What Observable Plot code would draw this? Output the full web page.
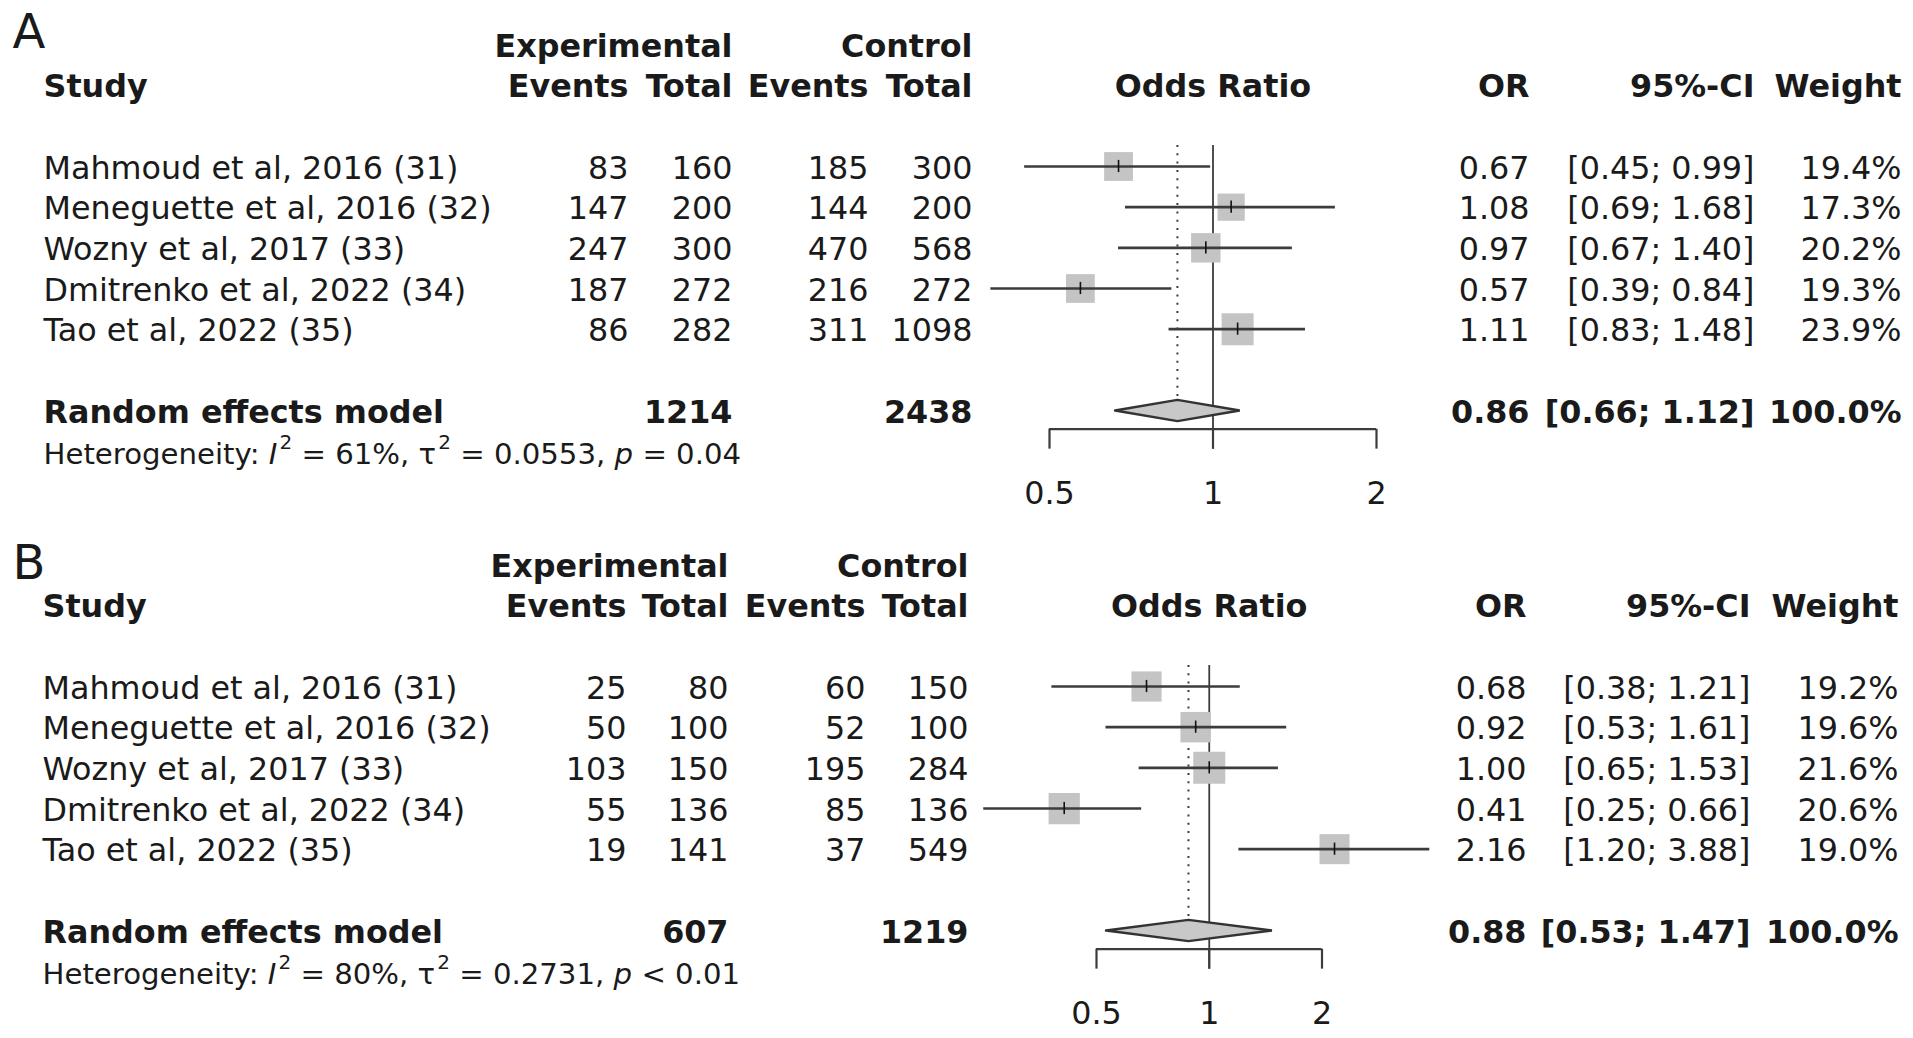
<!DOCTYPE html>
<html><head><meta charset="utf-8">
<script src="https://cdn.jsdelivr.net/npm/d3@7"></script>
<script src="https://cdn.jsdelivr.net/npm/@observablehq/plot@0.6"></script>
<style>
html,body{margin:0;padding:0;background:#fff;}
#chart svg{display:block;overflow:visible;}
</style>
</head><body><div id="chart"></div>
<script>
// ---------- data ----------
const studies = ["Mahmoud et al, 2016 (31)", "Meneguette et al, 2016 (32)", "Wozny et al, 2017 (33)", "Dmitrenko et al, 2022 (34)", "Tao et al, 2022 (35)"];
const tickValues = [0.5, 1, 2];
const tickLabels = ["0.5", "1", "2"];

// Panel A
const aExpEvents = [83, 147, 247, 187, 86];
const aExpTotal = [160, 200, 300, 272, 282];
const aCtrlEvents = [185, 144, 470, 216, 311];
const aCtrlTotal = [300, 200, 568, 272, 1098];
const aOR = [0.67, 1.08, 0.97, 0.57, 1.11];
const aLower = [0.45, 0.69, 0.67, 0.39, 0.83];
const aUpper = [0.99, 1.68, 1.40, 0.84, 1.48];
const aWeight = [19.4, 17.3, 20.2, 19.3, 23.9];
const aPooled = [0.86, 0.66, 1.12];      // OR, lower, upper
const aPooledTotals = [1214, 2438];      // experimental, control
const aHet = ["61%", "0.0553", "= 0.04"]; // I2, tau2, p

// Panel B
const bExpEvents = [25, 50, 103, 55, 19];
const bExpTotal = [80, 100, 150, 136, 141];
const bCtrlEvents = [60, 52, 195, 85, 37];
const bCtrlTotal = [150, 100, 284, 136, 549];
const bOR = [0.68, 0.92, 1.00, 0.41, 2.16];
const bLower = [0.38, 0.53, 0.65, 0.25, 1.20];
const bUpper = [1.21, 1.61, 1.53, 0.66, 3.88];
const bWeight = [19.2, 19.6, 21.6, 20.6, 19.0];
const bPooled = [0.88, 0.53, 1.47];
const bPooledTotals = [607, 1219];
const bHet = ["80%", "0.2731", "< 0.01"];

// ---------- drawing ----------
function forestPanel(d, L) {
  const rows = studies.map((s, i) => ({
    study: s, row: i + 1,
    expEv: d.expEvents[i], expTot: d.expTotal[i], ctlEv: d.ctrlEvents[i], ctlTot: d.ctrlTotal[i],
    or: d.or[i], lo: d.lower[i], hi: d.upper[i], w: d.weight[i]
  }));
  const poolRow = 7, dh = 0.26, topRow = 0.484, axisRow = 7.46, tickEnd = 7.95, labelRow = 9.05, hetRow = 8.09;
  const [por, plo, phi] = d.pooled;
  const diamond = [
    {x: plo, y: poolRow}, {x: por, y: poolRow - dh}, {x: phi, y: poolRow},
    {x: por, y: poolRow + dh}, {x: plo, y: poolRow}
  ];
  const fs = 31.8;
  const ink = "#1a1a1a", lineCol = "#3c3c3c";
  const col = px => px - L.ml;
  const colText = (data, text, px, anchor, extra = {}) =>
    Plot.text(data, {frameAnchor: "left", dx: col(px), y: "row", text, textAnchor: anchor,
      fontSize: fs, fill: ink, dy: 2, ...extra});
  const header = (label, row, px, anchor) =>
    Plot.text([label], {frameAnchor: "left", dx: col(px), y: row, text: t => t, textAnchor: anchor,
      fontSize: fs, fontWeight: "bold", fill: ink, dy: 2});
  const pooledRow = [{row: poolRow}];
  const bold = {fontWeight: "bold"};

  const svg = Plot.plot({
    width: 1913, height: L.height,
    marginLeft: L.ml, marginRight: 1913 - L.xr, marginTop: 0, marginBottom: 0,
    x: {type: "log", domain: [0.5, 2], axis: null},
    y: {domain: [1, 7], range: [166, 410], axis: null},
    r: {type: "sqrt", domain: [0, d3.max(d.weight)], range: [0, 32 / Math.sqrt(Math.PI)]},
    style: {fontFamily: "'DejaVu Sans', sans-serif", background: "#fff", overflow: "visible"},
    marks: [
      // panel letter
      Plot.text([L.letter], {frameAnchor: "left", dx: col(12), y: L.letterRow, text: t => t,
        textAnchor: "start", fontSize: 48, fill: ink}),
      // headers
      header("Experimental", -2, L.c.expTot, "end"),
      header("Control", -2, L.c.ctlTot, "end"),
      header("Study", -1, L.c.study, "start"),
      header("Events", -1, L.c.expEv, "end"),
      header("Total", -1, L.c.expTot, "end"),
      header("Events", -1, L.c.ctlEv, "end"),
      header("Total", -1, L.c.ctlTot, "end"),
      Plot.text([1], {x: v => v, y: -1, text: ["Odds Ratio"], fontSize: fs, fontWeight: "bold", fill: ink, dy: 2}),
      header("OR", -1, L.c.or, "end"),
      header("95%-CI", -1, L.c.ci, "end"),
      header("Weight", -1, L.c.w, "end"),
      // reference lines
      Plot.ruleX([1], {x: v => v, y1: topRow, y2: tickEnd, stroke: lineCol, strokeWidth: 1.8}),
      Plot.ruleX([por], {x: v => v, y1: topRow, y2: poolRow - dh, stroke: lineCol, strokeWidth: 2, strokeDasharray: "2,6.3"}),
      // squares, CIs, point ticks
      Plot.dot(rows, {x: "or", y: "row", r: "w", symbol: "square", fill: "#c4c4c4", stroke: null}),
      Plot.ruleY(rows, {x1: "lo", x2: "hi", y: "row", stroke: lineCol, strokeWidth: 2.6}),
      Plot.ruleX(rows, {x: "or", y1: r => r.row - 0.15, y2: r => r.row + 0.15, stroke: "#111", strokeWidth: 1.6}),
      // diamond
      Plot.line(diamond, {x: "x", y: "y", fill: "#c8c8c8", stroke: "#333", strokeWidth: 2.4, strokeLinejoin: "miter"}),
      // x axis
      Plot.ruleY([axisRow], {x1: tickValues[0], x2: tickValues[tickValues.length - 1], y: v => v, stroke: lineCol, strokeWidth: 2.2}),
      Plot.ruleX(tickValues, {x: v => v, y1: axisRow, y2: tickEnd, stroke: lineCol, strokeWidth: 2.2}),
      Plot.text(tickValues, {x: v => v, y: labelRow, text: (v, i) => tickLabels[i], fontSize: fs, fill: ink}),
      // study table
      colText(rows, "study", L.c.study, "start"),
      colText(rows, r => String(r.expEv), L.c.expEv, "end"),
      colText(rows, r => String(r.expTot), L.c.expTot, "end"),
      colText(rows, r => String(r.ctlEv), L.c.ctlEv, "end"),
      colText(rows, r => String(r.ctlTot), L.c.ctlTot, "end"),
      colText(rows, r => r.or.toFixed(2), L.c.or, "end"),
      colText(rows, r => `[${r.lo.toFixed(2)}; ${r.hi.toFixed(2)}]`, L.c.ci, "end"),
      colText(rows, r => `${r.w.toFixed(1)}%`, L.c.w, "end"),
      // pooled row
      colText(pooledRow, () => "Random effects model", L.c.study, "start", bold),
      colText(pooledRow, () => String(d.pooledTotals[0]), L.c.expTot, "end", bold),
      colText(pooledRow, () => String(d.pooledTotals[1]), L.c.ctlTot, "end", bold),
      colText(pooledRow, () => por.toFixed(2), L.c.or, "end", bold),
      colText(pooledRow, () => `[${plo.toFixed(2)}; ${phi.toFixed(2)}]`, L.c.ci, "end", bold),
      colText(pooledRow, () => "100.0%", L.c.w, "end", bold),
      // heterogeneity
      Plot.text(["Heterogeneity"], {frameAnchor: "left", dx: col(L.c.study), y: hetRow, text: t => t,
        textAnchor: "start", fontSize: 29.2, fill: ink})
    ]
  });

  // rich heterogeneity line (italics + superscripts)
  d3.select(svg).selectAll("text")
    .filter(function() { return this.textContent === "Heterogeneity"; })
    .each(function() {
      const t = d3.select(this);
      t.text(null);
      const [i2, tau2, p] = d.het;
      t.append("tspan").text("Heterogeneity: ");
      t.append("tspan").attr("font-style", "italic").text("I");
      t.append("tspan").attr("font-size", "20px").attr("dy", "-15").attr("dx", "2").text("2");
      t.append("tspan").attr("dy", "15").text(` = ${i2}, τ`);
      t.append("tspan").attr("font-size", "20px").attr("dy", "-15").attr("dx", "2").text("2");
      t.append("tspan").attr("dy", "15").text(` = ${tau2}, `);
      t.append("tspan").attr("font-style", "italic").text("p");
      t.append("tspan").text(` ${p}`);
    });
  return svg;
}

const chart = document.getElementById("chart");
chart.append(forestPanel(
  {expEvents: aExpEvents, expTotal: aExpTotal, ctrlEvents: aCtrlEvents, ctrlTotal: aCtrlTotal,
   or: aOR, lower: aLower, upper: aUpper, weight: aWeight, pooled: aPooled, pooledTotals: aPooledTotals, het: aHet},
  {letter: "A", letterRow: -2.30, height: 520, ml: 1049, xr: 1376,
   c: {study: 43, expEv: 628, expTot: 732, ctlEv: 868, ctlTot: 972, or: 1529, ci: 1754, w: 1901}}
));
chart.append(forestPanel(
  {expEvents: bExpEvents, expTotal: bExpTotal, ctrlEvents: bCtrlEvents, ctrlTotal: bCtrlTotal,
   or: bOR, lower: bLower, upper: bUpper, weight: bWeight, pooled: bPooled, pooledTotals: bPooledTotals, het: bHet},
  {letter: "B", letterRow: -2.03, height: 518, ml: 1096, xr: 1321.5,
   c: {study: 42, expEv: 626, expTot: 728, ctlEv: 865, ctlTot: 968, or: 1526, ci: 1750, w: 1898}}
));
</script>
</body></html>
